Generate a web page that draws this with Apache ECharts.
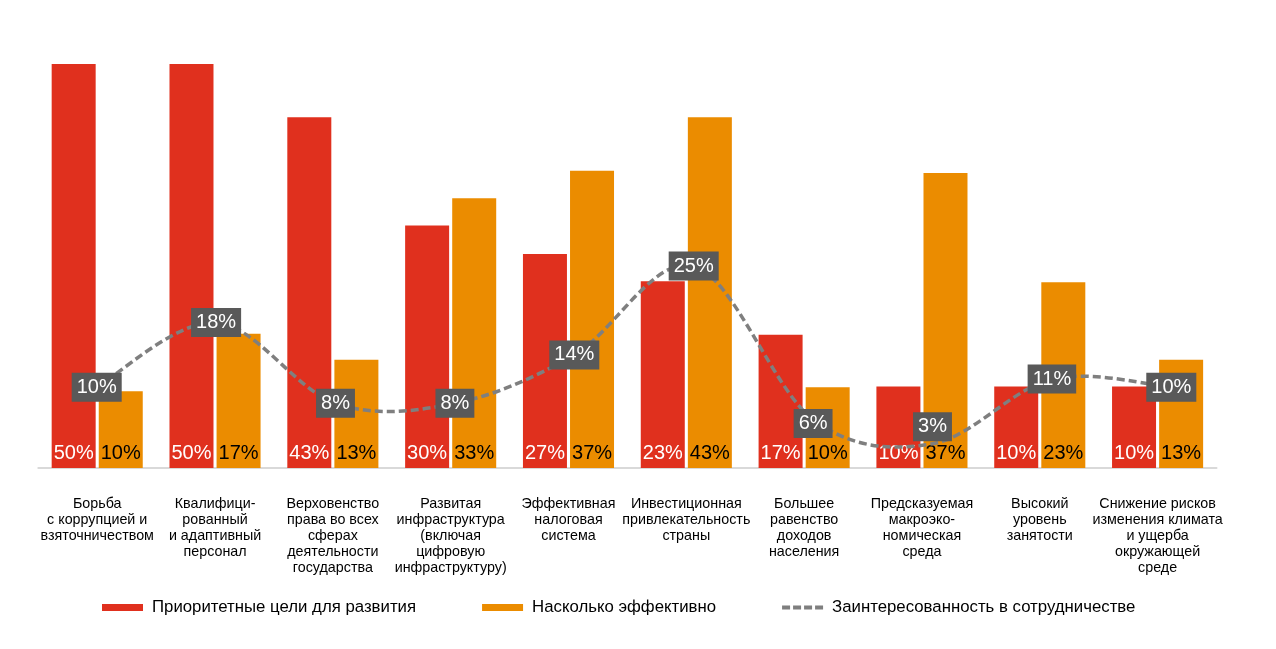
<!DOCTYPE html>
<html>
<head>
<meta charset="utf-8">
<script src="https://cdn.jsdelivr.net/npm/echarts@6/dist/echarts.min.js"></script>
<style>
html,body{margin:0;padding:0;background:#fff;}
#chart{width:1276px;height:649px;}
</style>
</head>
<body>
<div id="chart"></div>
<script>
const categories = [
  "Борьба\nс коррупцией и\nвзяточничеством",
  "Квалифици-\nрованный\nи адаптивный\nперсонал",
  "Верховенство\nправа во всех\nсферах\nдеятельности\nгосударства",
  "Развитая\nинфраструктура\n(включая\nцифровую\nинфраструктуру)",
  "Эффективная\nналоговая\nсистема",
  "Инвестиционная\nпривлекательность\nстраны",
  "Большее\nравенство\nдоходов\nнаселения",
  "Предсказуемая\nмакроэко-\nномическая\nсреда",
  "Высокий\nуровень\nзанятости",
  "Снижение рисков\nизменения климата\nи ущерба\nокружающей\nсреде"
];
// bar heights (labels show the rounded values)
const priorityValues = [50, 50, 43.4, 30, 26.5, 23.1, 16.5, 10.1, 10.1, 10.1];
const effectiveValues = [9.5, 16.6, 13.4, 33.4, 36.8, 43.4, 10, 36.5, 23, 13.4];
const interestValues = [10, 18, 8, 8, 14, 25, 6, 3, 11, 10];
const seriesNames = [
  "Приоритетные цели для развития",
  "Насколько эффективно",
  "Заинтересованность в сотрудничестве"
];
const labelOffsets = [0, 0, 0, 0, 0, 0, 4, -17, 0, 0];

const FONT = "Liberation Sans, Arial, sans-serif";
const LINE_COLOR = '#7f7f7f';
const chart = echarts.init(document.getElementById('chart'));

function pctLabel(p) { return Math.round(p.value) + '%'; }

// Smooth (Catmull-Rom style) curve through the points, mapped by the axes.
function renderCurve(params, api) {
  if (params.dataIndex !== 0) return;
  const pts = interestValues.map((v, i) => api.coord([i, v]));
  const n = pts.length;
  const P = (k) => pts[Math.max(0, Math.min(n - 1, k))];
  let d = 'M' + pts[0][0] + ',' + pts[0][1];
  for (let i = 0; i < n - 1; i++) {
    const p0 = P(i - 1), p1 = P(i), p2 = P(i + 1), p3 = P(i + 2);
    const c1x = p1[0] + (p2[0] - p0[0]) / 6, c1y = p1[1] + (p2[1] - p0[1]) / 6;
    const c2x = p2[0] - (p3[0] - p1[0]) / 6, c2y = p2[1] - (p3[1] - p1[1]) / 6;
    d += ' C' + c1x + ',' + c1y + ' ' + c2x + ',' + c2y + ' ' + p2[0] + ',' + p2[1];
  }
  return {
    type: 'path',
    silent: true,
    shape: { pathData: d },
    style: { fill: 'none', stroke: LINE_COLOR, lineWidth: 3.5, lineDash: [8, 4] }
  };
}

chart.setOption({
  backgroundColor: '#ffffff',
  animation: false,
  textStyle: { fontFamily: FONT },
  grid: [
    { left: 38.3, right: 59.5, top: 64, bottom: 181 },
    { left: 37, right: 45, top: 64, bottom: 181 }
  ],
  xAxis: [
    {
      type: 'category', gridIndex: 0, data: categories,
      axisLine: { show: true, lineStyle: { color: '#d9d9d9', width: 2 } },
      axisTick: { show: false },
      axisLabel: {
        interval: 0, margin: 28, color: '#000', fontSize: 14.3, lineHeight: 16,
        fontFamily: FONT, align: 'center'
      }
    },
    { type: 'category', gridIndex: 1, data: categories, show: false }
  ],
  yAxis: [
    { type: 'value', gridIndex: 0, min: 0, max: 50, show: false, splitLine: { show: false } },
    { type: 'value', gridIndex: 1, min: 0, max: 50, show: false, splitLine: { show: false } }
  ],
  legend: {
    left: 97, top: 594,
    itemWidth: 41, itemHeight: 7, itemGap: 66,
    textStyle: { fontSize: 16.8, color: '#000', fontFamily: FONT, padding: [0, 0, 0, 4] },
    data: [
      { name: seriesNames[0], icon: 'rect' },
      { name: seriesNames[1], icon: 'rect' },
      { name: seriesNames[2], icon: 'path://M0,0h8v4h-8z M11,0h8v4h-8z M22,0h8v4h-8z M33,0h8v4h-8z' }
    ]
  },
  series: [
    {
      name: seriesNames[0], type: 'bar', xAxisIndex: 0, yAxisIndex: 0,
      data: priorityValues, barWidth: 44, barGap: '7%',
      itemStyle: { color: '#E0301E' },
      label: {
        show: true, position: 'insideBottom', distance: 5,
        formatter: pctLabel, color: '#fff', fontSize: 20, fontFamily: FONT
      }
    },
    {
      name: seriesNames[1], type: 'bar', xAxisIndex: 0, yAxisIndex: 0,
      data: effectiveValues, barWidth: 44, barGap: '7%',
      itemStyle: { color: '#EB8C00' },
      label: {
        show: true, position: 'insideBottom', distance: 5,
        formatter: pctLabel, color: '#000', fontSize: 20, fontFamily: FONT
      }
    },
    {
      name: 'curve', type: 'custom', xAxisIndex: 1, yAxisIndex: 1,
      data: interestValues.map((v, i) => [i, v]),
      encode: { x: 0, y: 1 },
      renderItem: renderCurve,
      z: 4
    },
    {
      name: seriesNames[2], type: 'line', xAxisIndex: 1, yAxisIndex: 1,
      data: interestValues.map((v, i) => ({
        value: v,
        label: { offset: [0, labelOffsets[i]] }
      })),
      showSymbol: true, symbol: 'circle', symbolSize: 2,
      itemStyle: { color: LINE_COLOR },
      lineStyle: { opacity: 0, width: 0 },
      label: {
        show: true, position: 'inside',
        formatter: '{c}%', color: '#fff', fontSize: 20, fontFamily: FONT,
        backgroundColor: '#595959', padding: [5, 5, 4, 5]
      },
      z: 5
    }
  ]
});
</script>
</body>
</html>
